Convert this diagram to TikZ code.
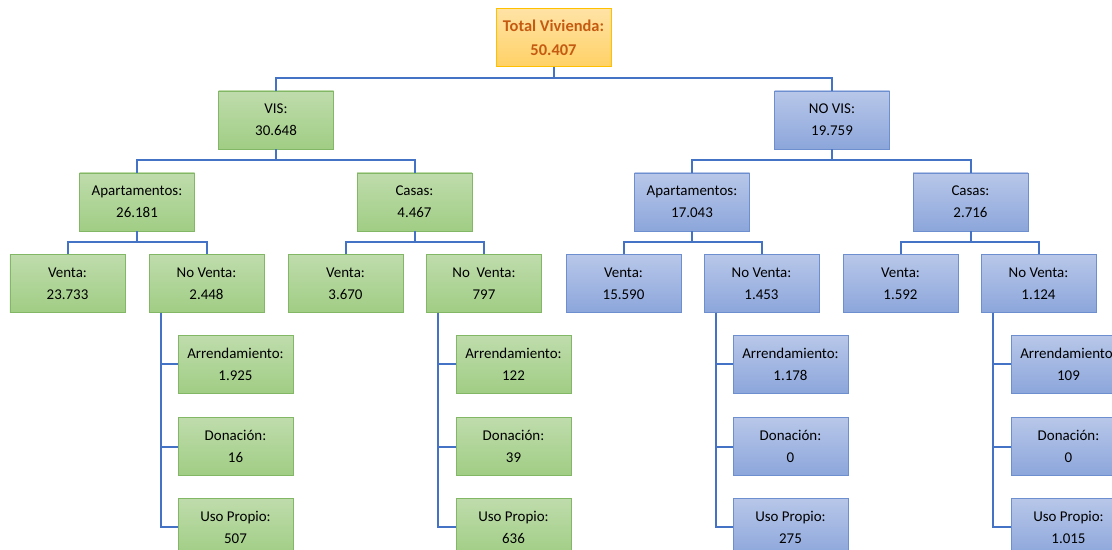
\documentclass[tikz,border=0pt]{standalone}
\usepackage{fontspec}
\setmainfont{Carlito}
\usetikzlibrary{positioning}

\definecolor{lineblue}{HTML}{4472C4}
\definecolor{gtop}{HTML}{BFDCAC}
\definecolor{gbot}{HTML}{A0CD84}
\definecolor{gline}{HTML}{82B765}
\definecolor{btop}{HTML}{B8C7E9}
\definecolor{bbot}{HTML}{8CA6DB}
\definecolor{bline}{HTML}{6D8FCF}
\definecolor{otop}{HTML}{FFE3A6}
\definecolor{obot}{HTML}{FFD166}
\definecolor{oline}{HTML}{FFC000}
\definecolor{otext}{HTML}{C55A11}

\tikzset{
	box/.style={rectangle, minimum width=115bp, minimum height=58bp, align=center,
		font=\fontsize{15}{22}\selectfont, line width=0.8bp, inner sep=0pt},
	green box/.style={box, draw=gline, top color=gtop, bottom color=gbot},
	blue box/.style={box, draw=bline, top color=btop, bottom color=bbot},
	top box/.style={box, draw=oline, top color=otop, bottom color=obot,
		text=otext, font=\bfseries\fontsize{16.5}{24}\selectfont},
	link/.style={draw=lineblue, line width=2bp}
}

\begin{document}
\begin{tikzpicture}[x=1bp, y=-1bp]
		
		\useasboundingbox[fill=white] (0,0) rectangle (1112,550);
		
		% top level
		\node[top box] (tot) at (553.5,37.5) {Total Vivienda:\\50.407};
		\node[green box] (vis) at (276,120) {VIS:\\30.648};
		\node[blue box] (novis) at (832,120) {NO VIS:\\19.759};
		
		% VIS
		\node[green box] (visap) at (137,202) {Apartamentos:\\26.181};
		\node[green box] (visca) at (414.5,202) {Casas:\\4.467};
		\node[green box] (visapv) at (67.5,283.5) {Venta:\\23.733};
		\node[green box] (visapn) at (206.5,283.5) {No Venta:\\2.448};
		\node[green box] (viscav) at (345.5,283.5) {Venta:\\3.670};
		\node[green box] (viscan) at (484,283.5) {No\ \ Venta:\\797};
		\node[green box] (visapa) at (235.5,364.5) {Arrendamiento:\\1.925};
		\node[green box] (visapd) at (235.5,446.5) {Donación:\\16};
		\node[green box] (visapu) at (235.5,527) {Uso Propio:\\507};
		\node[green box] (viscaa) at (513.5,364.5) {Arrendamiento:\\122};
		\node[green box] (viscad) at (513.5,446.5) {Donación:\\39};
		\node[green box] (viscau) at (513.5,527) {Uso Propio:\\636};
		
		% NO VIS
		\node[blue box] (novap) at (692,202) {Apartamentos:\\17.043};
		\node[blue box] (novca) at (970.5,202) {Casas:\\2.716};
		\node[blue box] (novapv) at (623.5,283.5) {Venta:\\15.590};
		\node[blue box] (novapn) at (761.5,283.5) {No Venta:\\1.453};
		\node[blue box] (novcav) at (900.5,283.5) {Venta:\\1.592};
		\node[blue box] (novcan) at (1038.5,283.5) {No Venta:\\1.124};
		\node[blue box] (novapa) at (790.5,364.5) {Arrendamiento:\\1.178};
		\node[blue box] (novapd) at (790.5,446.5) {Donación:\\0};
		\node[blue box] (novapu) at (790.5,527) {Uso Propio:\\275};
		\node[blue box] (novcaa) at (1068.5,364.5) {Arrendamiento:\\109};
		\node[blue box] (novcad) at (1068.5,446.5) {Donación:\\0};
		\node[blue box] (novcau) at (1068.5,527) {Uso Propio:\\1.015};
		
		% connectors
		\foreach \p/\a/\b in {tot/vis/novis, vis/visap/visca, novis/novap/novca,
			visap/visapv/visapn, visca/viscav/viscan,
			novap/novapv/novapn, novca/novcav/novcan}{
			\draw[link] (\a.north) |- ([yshift=-11bp]\p.south) -| (\b.north);
			\draw[link] (\p.south) -- ++(0,11);
		}
		\foreach \p/\a/\b/\c in {visapn/visapa/visapd/visapu, viscan/viscaa/viscad/viscau,
			novapn/novapa/novapd/novapu, novcan/novcaa/novcad/novcau}{
			\draw[link] ([xshift=12bp]\p.south west) |- (\c.west);
			\draw[link] ([xshift=12bp]\p.south west) |- (\a.west);
			\draw[link] ([xshift=12bp]\p.south west) |- (\b.west);
		}
		
	\end{tikzpicture}
\end{document}
